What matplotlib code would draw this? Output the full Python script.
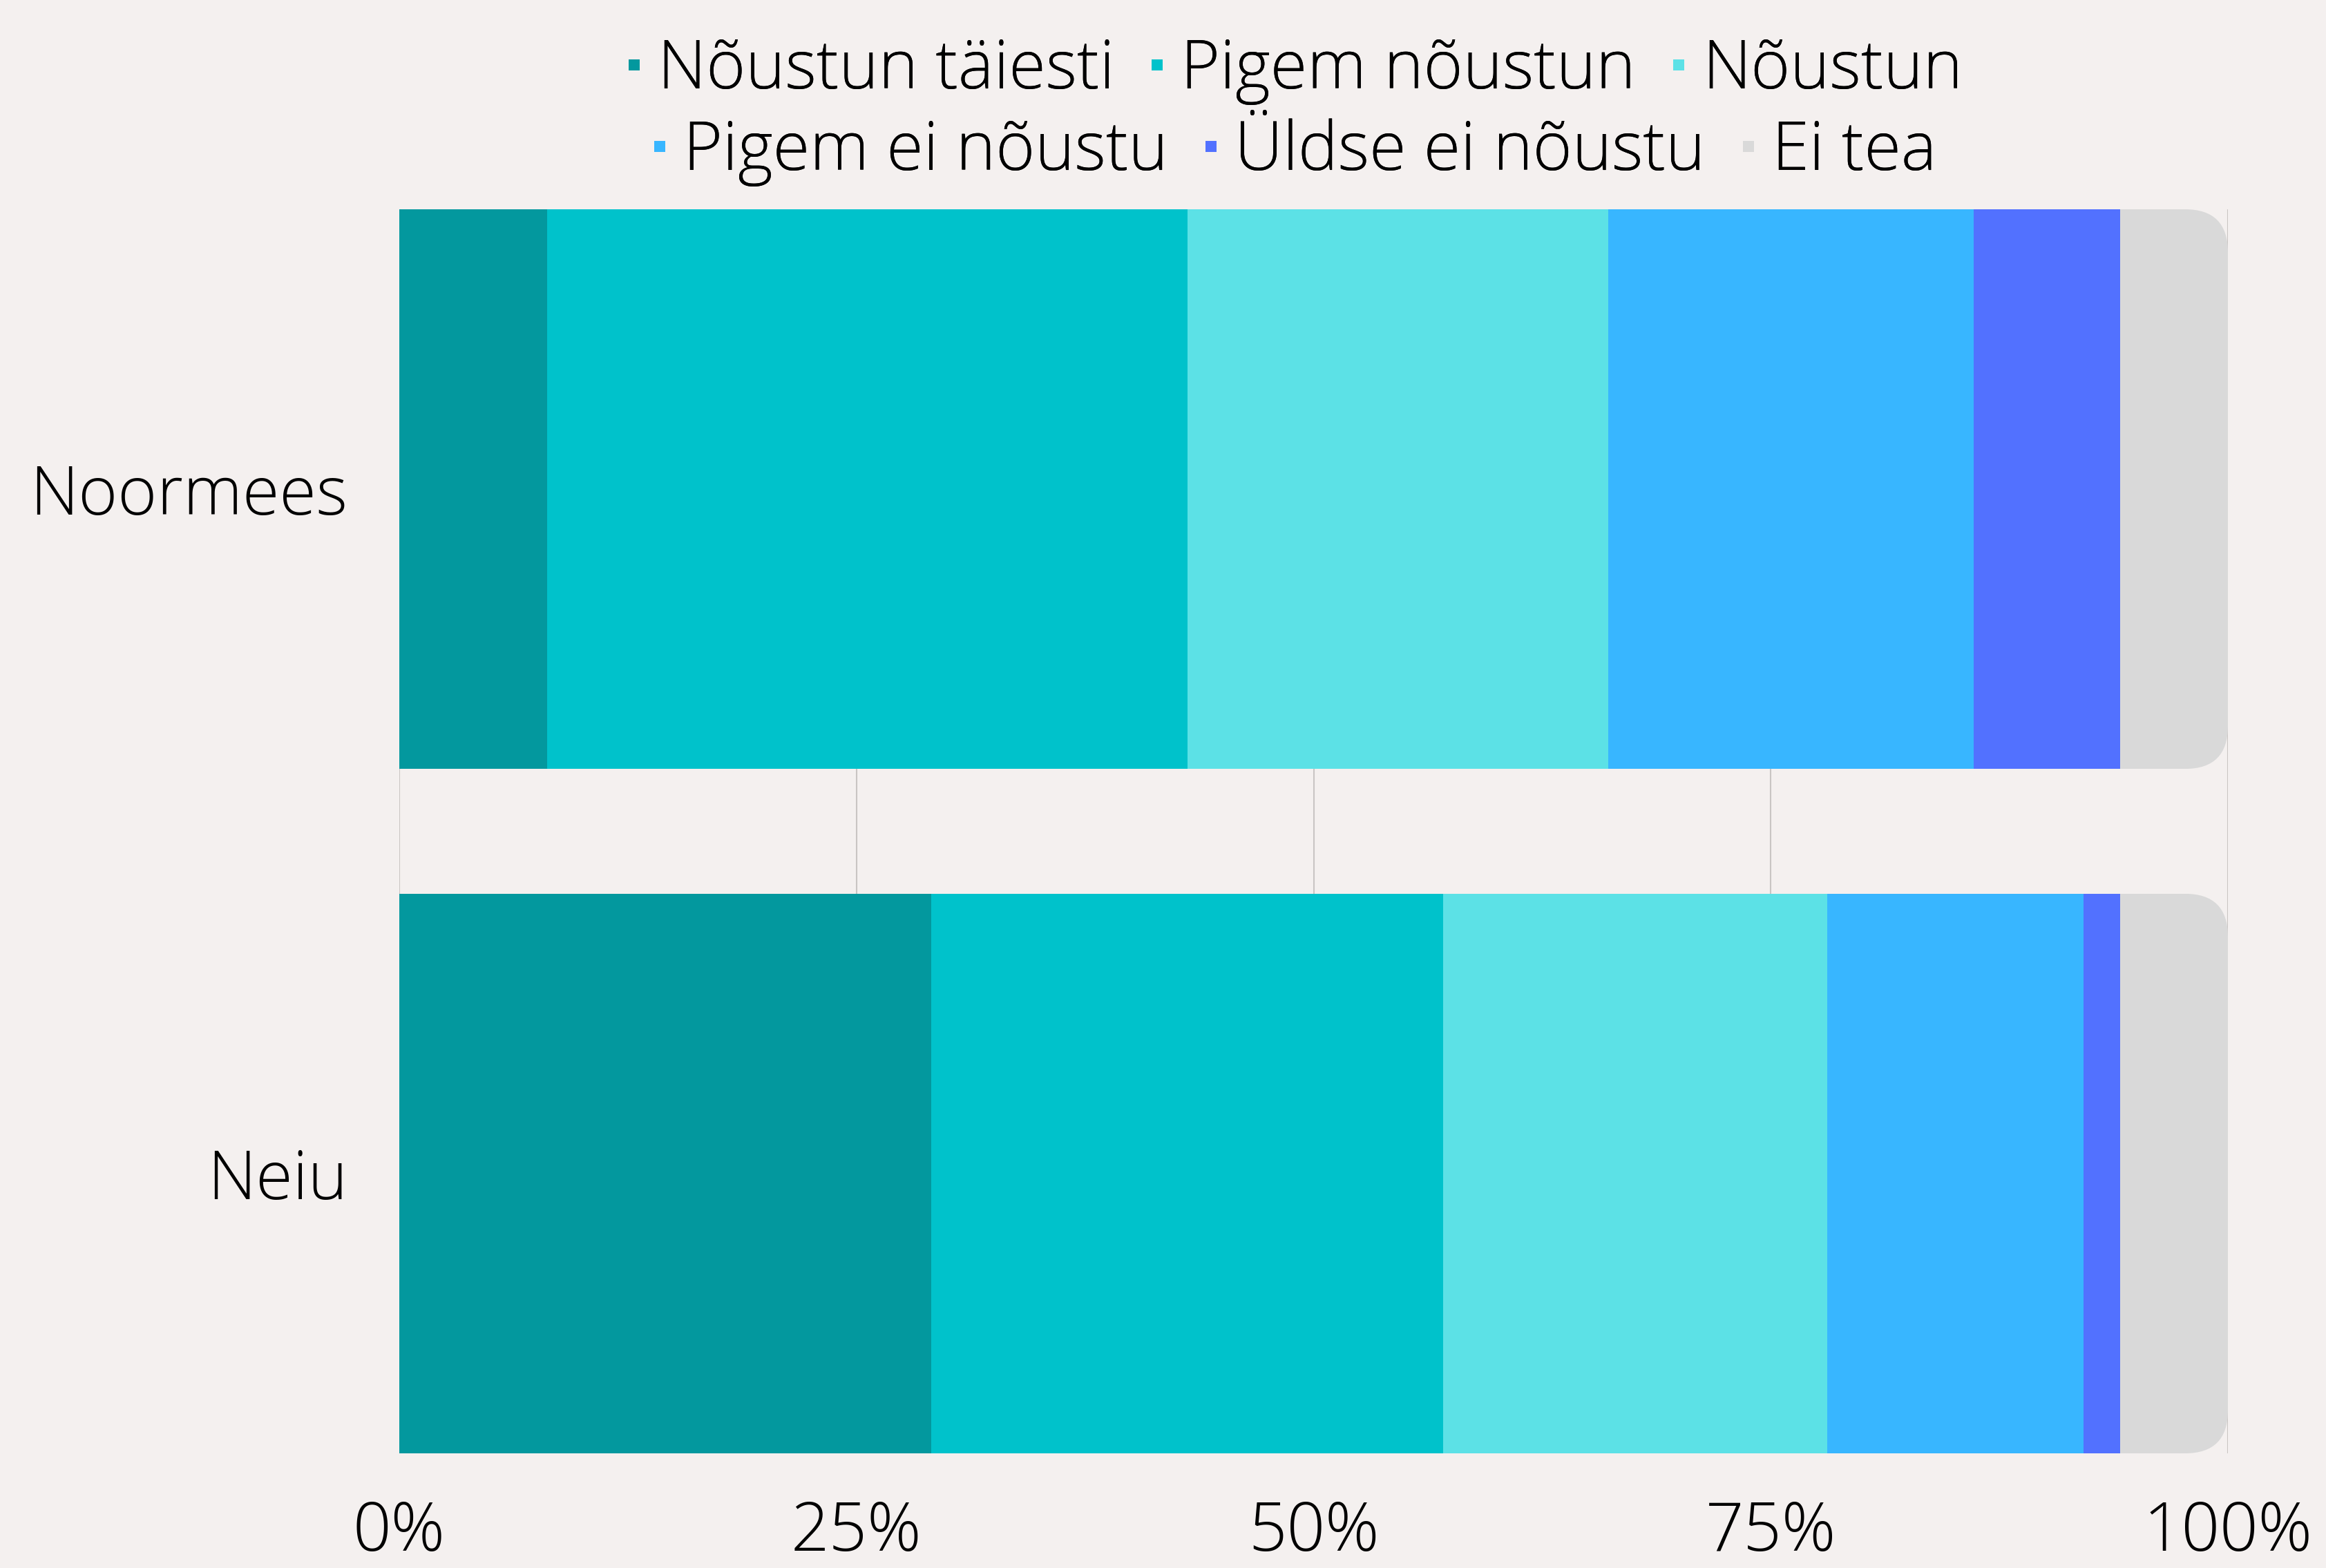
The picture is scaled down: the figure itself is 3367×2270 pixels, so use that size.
import matplotlib
matplotlib.use("Agg")
import matplotlib.pyplot as plt
from matplotlib.patches import FancyBboxPatch
from matplotlib.lines import Line2D
from matplotlib import font_manager as fm

categories = ["Noormees", "Neiu"]
series_names = ["Nõustun täiesti", "Pigem nõustun", "Nõustun",
                "Pigem ei nõustu", "Üldse ei nõustu", "Ei tea"]
values = {
    "Nõustun täiesti": [8.1, 29.1],
    "Pigem nõustun": [35.0, 28.0],
    "Nõustun": [23.0, 21.0],
    "Pigem ei nõustu": [20.0, 14.0],
    "Üldse ei nõustu": [8.0, 2.0],
    "Ei tea": [5.9, 5.9],
}
colors = ["#03989E", "#00C2CB", "#5CE1E6", "#38B6FF", "#5271FF", "#D9D9D9"]
xticks = [0, 25, 50, 75, 100]
xticklabels = ["0%", "25%", "50%", "75%", "100%"]

names = [f.name for f in fm.fontManager.ttflist]
fam = "Open Sans" if "Open Sans" in names else "DejaVu Sans"
plt.rcParams["font.family"] = [fam, "DejaVu Sans"]
plt.rcParams["font.weight"] = "light"

BG = "#F4F0EF"
W, H = 3367, 2270
fig = plt.figure(figsize=(W / 100, H / 100), dpi=100, facecolor=BG)
ax = fig.add_axes([578 / W, 1 - 2104 / H, (3225 - 578) / W, (2104 - 303) / H])
ax.set_facecolor(BG)

bar_h = 0.8175
ax.set_xlim(0, 100)
ax.set_ylim(1 + 0.5 * bar_h, -0.5 * bar_h)

ypos = list(range(len(categories)))

# rounded clip path per row (right corners rounded)
ax_w_px = 3225 - 578
ax_h_px = 2104 - 303
xu_per_px = 100 / ax_w_px
yu_per_px = (1 + bar_h) / ax_h_px
r_px = 62
for i, y in enumerate(ypos):
    total = sum(values[s][i] for s in series_names)
    clip = FancyBboxPatch((-20, y - bar_h / 2), total + 20, bar_h,
                          boxstyle=f"round,pad=0,rounding_size={r_px * xu_per_px}",
                          mutation_aspect=yu_per_px / xu_per_px,
                          transform=ax.transData, facecolor="none", edgecolor="none")
    ax.add_patch(clip)
    clip.set_visible(False)
    left = 0
    for s, c in zip(series_names, colors):
        v = values[s][i]
        bars = ax.barh([y], [v], left=[left], height=bar_h, color=c, zorder=3,
                       linewidth=0)
        for b in bars:
            b.set_clip_path(clip)
        left += v

for xt in xticks:
    ax.axvline(xt, color="#C9C5C3", lw=1.5, zorder=1)

for sp in ax.spines.values():
    sp.set_visible(False)

ax.set_yticks(ypos)
ax.set_yticklabels(categories, fontsize=70, fontweight="light")
ax.set_xticks(xticks)
ax.set_xticklabels(xticklabels, fontsize=70, fontweight="light")
ax.tick_params(axis="both", length=0)
ax.tick_params(axis="y", pad=54)
ax.tick_params(axis="x", pad=48)


def handles(idx):
    return [Line2D([], [], linestyle="none", marker="s", markersize=12.2,
                   markerfacecolor=colors[k], markeredgewidth=0) for k in idx]

rows = [[0, 1, 2], [3, 4, 5]]
ycenters = [103, 221]
for row, yc in zip(rows, ycenters):
    leg = fig.legend(handles(row), [series_names[k] for k in row], ncol=3,
                     loc="center", bbox_to_anchor=(1875 / W, 1 - yc / H),
                     frameon=False, handlelength=0.18, handletextpad=0.26,
                     columnspacing=0.55, borderpad=0, borderaxespad=0,
                     prop={"size": 70, "weight": "light"})
    fig.add_artist(leg)

fig.savefig("out.png", dpi=100, facecolor=BG)
